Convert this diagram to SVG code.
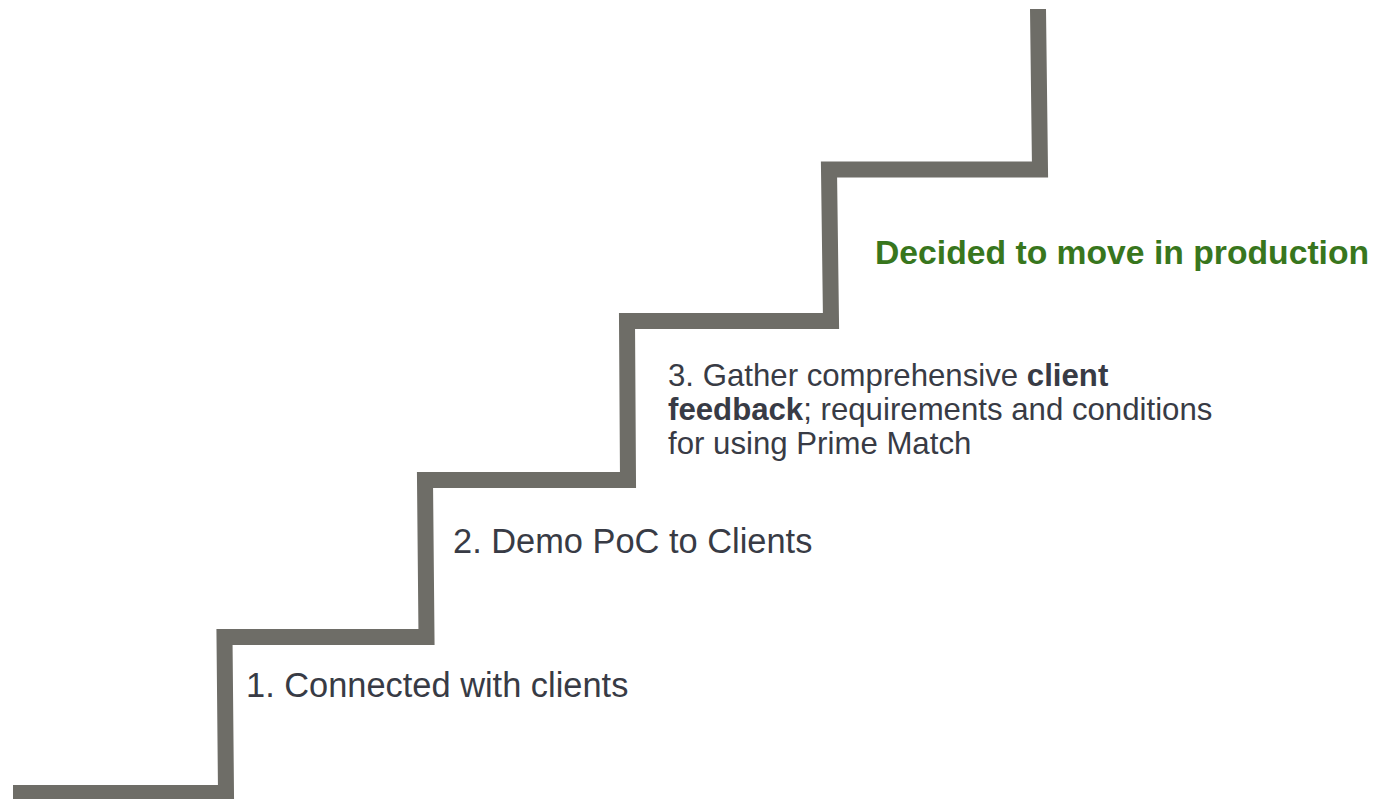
<svg xmlns="http://www.w3.org/2000/svg" width="1395" height="799" viewBox="0 0 1395 799">
  <style>
    .stair { fill: none; stroke: #6e6d67; stroke-width: 16; stroke-linejoin: miter; stroke-linecap: butt; }
    .step { font-family: "Liberation Sans", Arial, sans-serif; fill: #383b45; }
    .goal { font-family: "Liberation Sans", Arial, sans-serif; font-weight: bold; fill: #38761d; font-size: 33.7px; }
  </style>
  <rect width="1395" height="799" fill="#ffffff"/>
  <g id="connectors">
    <polyline class="stair" points="13,793 226,793 224.5,637 426.5,637 425,480 628,480 627,321 831,321 829,169.5 1040,169.5 1038,9"/>
  </g>
  <g id="step1">
    <text class="step" x="246" y="697" font-size="34.4">1. Connected with clients</text>
  </g>
  <g id="step2">
    <text class="step" x="453" y="553" font-size="34.4">2. Demo PoC to Clients</text>
  </g>
  <g id="step3">
    <text class="step" font-size="31.2">
      <tspan x="668" y="386">3. Gather comprehensive <tspan font-weight="bold">client</tspan></tspan>
      <tspan x="668" y="420"><tspan font-weight="bold">feedback</tspan>; requirements and conditions</tspan>
      <tspan x="668" y="454">for using Prime Match</tspan>
    </text>
  </g>
  <g id="goal">
    <text class="goal" x="875" y="264">Decided to move in production</text>
  </g>
</svg>
